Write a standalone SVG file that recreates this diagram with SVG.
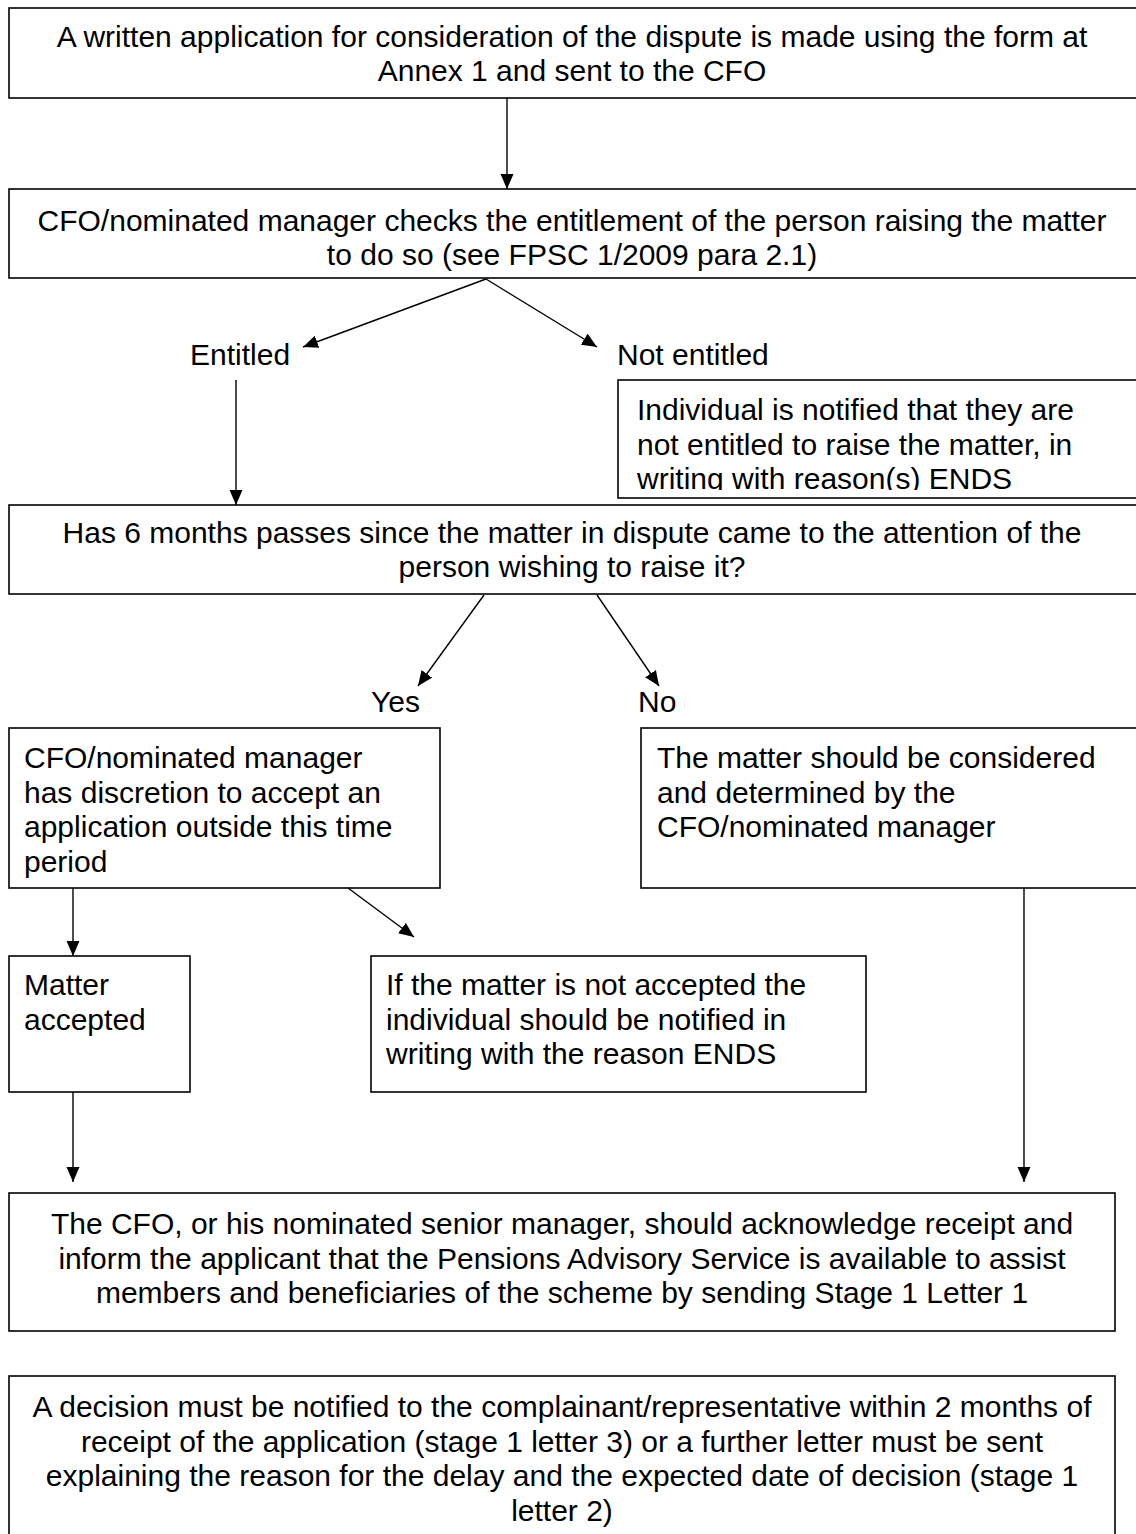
<svg xmlns="http://www.w3.org/2000/svg" width="1136" height="1534" viewBox="0 0 1136 1534">
<defs>
<marker id="ah" markerUnits="userSpaceOnUse" markerWidth="16" markerHeight="14" refX="15" refY="6.5" orient="auto" viewBox="0 0 16 13"><path d="M0,0 L15,6.5 L0,13 Z" fill="#000"/></marker>
<clipPath id="clipInd"><rect x="618" y="380" width="524" height="110"/></clipPath>
</defs>
<style>
.box{fill:#fff;stroke:#000;stroke-width:1.6}
.t{font-family:"Liberation Sans",Arial,sans-serif;font-size:30px;fill:#000}
.c{text-anchor:middle}
.ln{stroke:#000;stroke-width:1.4;fill:none;marker-end:url(#ah)}
</style>
<rect width="1136" height="1534" fill="#fff"/>
<g id="n1">
<rect class="box" x="9" y="8" width="1140" height="90"/>
<text class="t c" x="572" y="47">A written application for consideration of the dispute is made using the form at</text>
<text class="t c" x="572" y="81">Annex 1 and sent to the CFO</text>
</g>
<g id="n2">
<rect class="box" x="9" y="189" width="1140" height="89"/>
<text class="t c" x="572" y="231">CFO/nominated manager checks the entitlement of the person raising the matter</text>
<text class="t c" x="572" y="265">to do so (see FPSC 1/2009 para 2.1)</text>
</g>
<g id="lbl-entitled"><text class="t" x="190" y="365">Entitled</text></g>
<g id="lbl-not-entitled"><text class="t" x="617" y="365">Not entitled</text></g>
<g id="n-not-entitled">
<rect class="box" x="618" y="380" width="524" height="118"/>
<g clip-path="url(#clipInd)">
<text class="t" x="637" y="420">Individual is notified that they are</text>
<text class="t" x="637" y="454.5">not entitled to raise the matter, in</text>
<text class="t" x="637" y="489">writing with reason(s) ENDS</text>
</g>
</g>
<g id="n3">
<rect class="box" x="9" y="505" width="1140" height="89"/>
<text class="t c" x="572" y="543">Has 6 months passes since the matter in dispute came to the attention of the</text>
<text class="t c" x="572" y="577">person wishing to raise it?</text>
</g>
<g id="lbl-yes"><text class="t" x="371" y="712">Yes</text></g>
<g id="lbl-no"><text class="t" x="638" y="712">No</text></g>
<g id="n-discretion">
<rect class="box" x="9" y="728" width="431" height="160"/>
<text class="t" x="24" y="768">CFO/nominated manager</text>
<text class="t" x="24" y="802.5">has discretion to accept an</text>
<text class="t" x="24" y="837">application outside this time</text>
<text class="t" x="24" y="871.5">period</text>
</g>
<g id="n-considered">
<rect class="box" x="641" y="728" width="500" height="160"/>
<text class="t" x="657" y="768">The matter should be considered</text>
<text class="t" x="657" y="802.5">and determined by the</text>
<text class="t" x="657" y="837">CFO/nominated manager</text>
</g>
<g id="n-accepted">
<rect class="box" x="9" y="956" width="181" height="136"/>
<text class="t" x="24" y="995">Matter</text>
<text class="t" x="24" y="1029.5">accepted</text>
</g>
<g id="n-not-accepted">
<rect class="box" x="371" y="956" width="495" height="136"/>
<text class="t" x="386" y="995">If the matter is not accepted the</text>
<text class="t" x="386" y="1029.5">individual should be notified in</text>
<text class="t" x="386" y="1064">writing with the reason ENDS</text>
</g>
<g id="n-acknowledge">
<rect class="box" x="9" y="1193" width="1106" height="138"/>
<text class="t c" x="562" y="1234">The CFO, or his nominated senior manager, should acknowledge receipt and</text>
<text class="t c" x="562" y="1268.5">inform the applicant that the Pensions Advisory Service is available to assist</text>
<text class="t c" x="562" y="1303">members and beneficiaries of the scheme by sending Stage 1 Letter 1</text>
</g>
<g id="n-decision">
<rect class="box" x="9" y="1376" width="1106" height="166"/>
<text class="t c" x="562" y="1417">A decision must be notified to the complainant/representative within 2 months of</text>
<text class="t c" x="562" y="1451.5">receipt of the application (stage 1 letter 3) or a further letter must be sent</text>
<text class="t c" x="562" y="1486">explaining the reason for the delay and the expected date of decision (stage 1</text>
<text class="t c" x="562" y="1520.5">letter 2)</text>
</g>
<g id="connectors">
<line class="ln" x1="507" y1="98" x2="507" y2="189"/>
<line class="ln" x1="486" y1="279" x2="303" y2="347"/>
<line class="ln" x1="486" y1="279" x2="597" y2="347"/>
<line class="ln" x1="236" y1="380" x2="236" y2="505"/>
<line class="ln" x1="484" y1="595" x2="418" y2="686"/>
<line class="ln" x1="597" y1="595" x2="659" y2="686"/>
<line class="ln" x1="73" y1="888" x2="73" y2="956"/>
<line class="ln" x1="348" y1="888" x2="414" y2="937"/>
<line class="ln" x1="73" y1="1092" x2="73" y2="1182"/>
<line class="ln" x1="1024" y1="888" x2="1024" y2="1182"/>
</g>
</svg>
